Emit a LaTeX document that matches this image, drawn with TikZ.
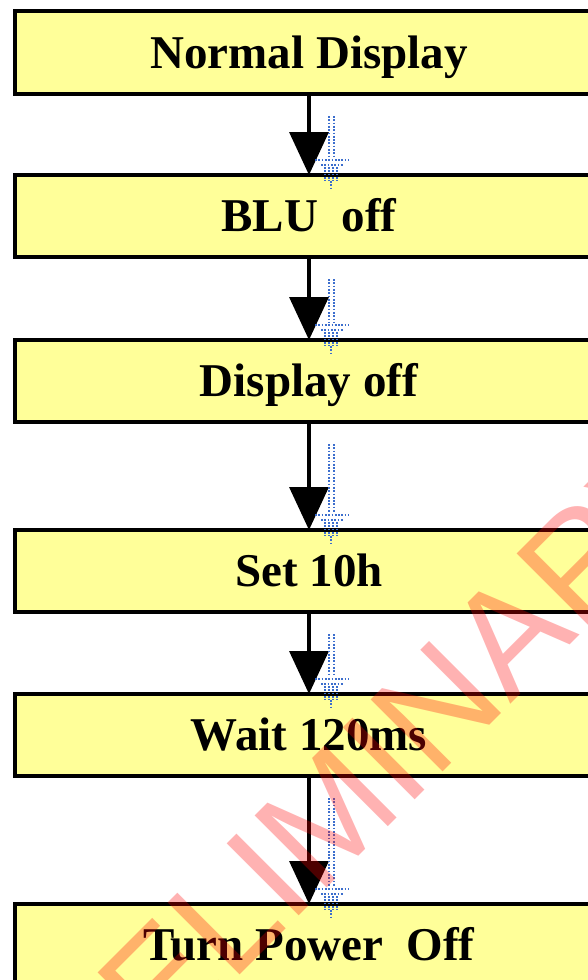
\documentclass[tikz,border=0pt]{standalone}
\usepackage{fontspec}
\setmainfont{Liberation Serif}
\newfontfamily\wmfont{Liberation Sans}
\usetikzlibrary{arrows.meta,calc}
\definecolor{boxyellow}{HTML}{FFFF99}
\definecolor{handleblue}{RGB}{60,110,205}
\begin{document}
\begin{tikzpicture}[x=1pt,y=-1pt,
  stepbox/.style={draw=black, line width=3.5pt, fill=boxyellow,
    minimum width=588pt, minimum height=82pt, inner sep=0pt, outer sep=0pt,
    font=\bfseries\fontsize{47}{50}\selectfont, text height=31pt, text depth=0pt},
  flow/.style={line width=3.5pt, -{Triangle[width=39pt,length=43pt]}},
  handle/.style={handleblue, line width=1.7pt, dash pattern=on 1.7pt off 1.6pt},
  wm/.style={font=\wmfont\fontsize{148}{150}\selectfont, text=red,
    text opacity=0.3, rotate=45, inner sep=0pt, anchor=center}
]
\useasboundingbox (0,0) rectangle (587,980);
\fill[white] (0,0) rectangle (587,980);

\node[stepbox, minimum height=83pt] (b1) at (309,52.5) {Normal Display};
\node[stepbox] (b2) at (309,216) {BLU~~off};
\node[stepbox] (b3) at (309,381) {Display off};
\node[stepbox] (b4) at (309,571) {Set 10h};
\node[stepbox] (b5) at (309,735) {Wait 120ms};
\node[stepbox] (b6) at (309,945) {Turn Power~~Off};

\draw[flow] (b1.south) -- (b2.north);
\draw[flow] (b2.south) -- (b3.north);
\draw[flow] (b3.south) -- (b4.north);
\draw[flow] (b4.south) -- (b5.north);
\draw[flow] (b5.south) -- (b6.north);

\foreach \a/\b in {b1/b2,b2/b3,b3/b4,b4/b5,b5/b6}{
  \draw[handle] ($(\a.south)+(20,22)$) -- ($(\b.north)+(20,-18)$);
  \draw[handle] ($(\a.south)+(25,22)$) -- ($(\b.north)+(25,-18)$);
  \draw[handle] ($(\b.north)+(6,-15)$) -- ($(\b.north)+(40,-15)$);
  \draw[handle] ($(\b.north)+(12,-10)$) -- ($(\b.north)+(34,-10)$);
  \foreach \o in {16,20,24,28}{
    \draw[handle] ($(\b.north)+(\o,-8)$) -- ($(\b.north)+(\o,6)$);
  }
  \draw[handle] ($(\b.north)+(22,6)$) -- ($(\b.north)+(22,14)$);
}

\node[wm] (wm) at (334,809) {PRELIMINARY};
\end{tikzpicture}
\end{document}
